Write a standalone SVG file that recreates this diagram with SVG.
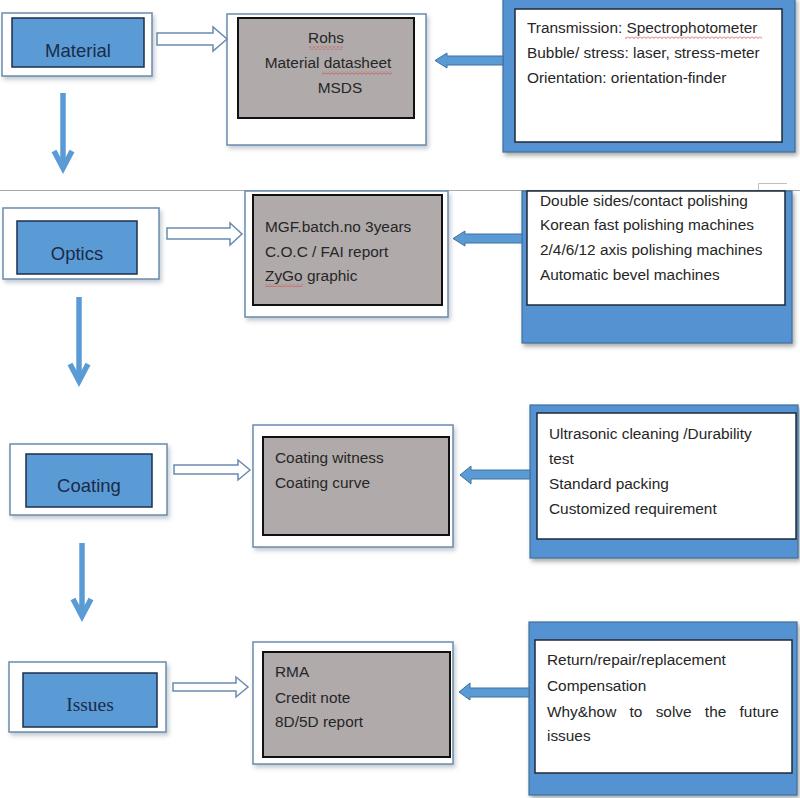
<svg xmlns="http://www.w3.org/2000/svg" width="800" height="798" viewBox="0 0 800 798">
<style>
.bg{fill:#ffffff}
.outer{fill:#ffffff;stroke:#6a8bae;stroke-width:1.5;filter:url(#sh)}
.lab{fill:#5b9bd5;stroke:#1d2f4c;stroke-width:1.5}
.gray{fill:#b0aaaa;stroke:#111;stroke-width:2}
.bluebox{fill:#5592d2;stroke:#41719c;stroke-width:1.2;filter:url(#sh2)}
.white{fill:#ffffff;stroke:#1f2a3a;stroke-width:1.5}
.lt{font-family:"Liberation Sans",Arial,sans-serif;font-size:18.5px;fill:#1a2b48;text-anchor:middle}
.ls{font-family:"Liberation Serif","Times New Roman",serif;font-size:19.5px;fill:#1a2b48;text-anchor:middle}
.t{font-family:"Liberation Sans",Arial,sans-serif;font-size:15.4px;fill:#262626}
.c{text-anchor:middle}
.hollow{fill:#ffffff;stroke:#6a8bae;stroke-width:1.5}
.solid{fill:#5b9bd5;stroke:#41719c;stroke-width:1}
.down{fill:none;stroke:#5b9bd5;stroke-width:5.5}
.wave{fill:url(#wv)}
</style>
<defs>
<filter id="sh" x="-10%" y="-10%" width="130%" height="130%">
<feDropShadow dx="2" dy="3" stdDeviation="2" flood-color="#7a8a9a" flood-opacity="0.45"/>
</filter>
<filter id="sh2" x="-10%" y="-10%" width="130%" height="130%">
<feDropShadow dx="2" dy="3" stdDeviation="2" flood-color="#555" flood-opacity="0.5"/>
</filter>
<pattern id="wv" width="4" height="3" patternUnits="userSpaceOnUse">
<path d="M0,0.5 L2,2.5 L4,0.5" fill="none" stroke="#d23c3c" stroke-width="0.8"/>
</pattern>
</defs>
<rect class="bg" x="0" y="0" width="800" height="798"/>
<line x1="0" y1="190.5" x2="800" y2="190.5" stroke="#a8a8a8" stroke-width="1"/>
<polyline points="758.5,190 758.5,183.5 787,183.5" fill="none" stroke="#c0c0c0" stroke-width="1"/>

<g id="material">
<rect class="outer" x="2" y="13" width="150" height="63"/>
<rect class="lab" x="12" y="18" width="132" height="49"/>
<text class="lt" x="78" y="57">Material</text>
</g>
<g id="material-docs">
<rect class="outer" x="227" y="14" width="199" height="131"/>
<rect class="gray" x="238" y="18" width="176" height="100"/>
<text class="t c" x="326" y="43">Rohs</text>
<text class="t c" x="328" y="68">Material datasheet</text>
<text class="t c" x="340" y="93">MSDS</text>
<rect class="wave" x="309" y="46.5" width="34" height="3"/>
<rect class="wave" x="322" y="71.5" width="70" height="3"/>
</g>
<g id="material-tests">
<rect class="bluebox" x="503" y="-2" width="292" height="154"/>
<rect class="white" x="515" y="9" width="267" height="133"/>
<text class="t" x="527" y="33">Transmission: Spectrophotometer</text>
<text class="t" x="527" y="58">Bubble/ stress: laser, stress-meter</text>
<text class="t" x="527" y="83">Orientation: orientation-finder</text>
<rect class="wave" x="625" y="36" width="137" height="3"/>
</g>

<g id="optics">
<rect class="outer" x="3" y="208" width="156" height="71"/>
<rect class="lab" x="17" y="221" width="120" height="53"/>
<text class="lt" x="77" y="260">Optics</text>
</g>
<g id="optics-docs">
<rect class="outer" x="245" y="191" width="203" height="126"/>
<rect class="gray" x="253" y="195" width="189" height="110"/>
<text class="t" x="265" y="232">MGF.batch.no 3years</text>
<text class="t" x="265" y="257">C.O.C / FAI report</text>
<text class="t" x="265" y="281">ZyGo graphic</text>
<rect class="wave" x="265" y="284" width="38" height="3"/>
</g>
<g id="optics-machines">
<rect class="bluebox" x="522" y="191" width="270" height="152"/>
<rect class="white" x="527" y="191" width="258" height="114"/>
<text class="t" x="540" y="206">Double sides/contact polishing</text>
<text class="t" x="540" y="230">Korean fast polishing machines</text>
<text class="t" x="540" y="255">2/4/6/12 axis polishing machines</text>
<text class="t" x="540" y="280">Automatic bevel machines</text>
</g>

<g id="coating">
<rect class="outer" x="10" y="444" width="157" height="71"/>
<rect class="lab" x="26" y="454" width="126" height="53"/>
<text class="lt" x="89" y="492">Coating</text>
</g>
<g id="coating-docs">
<rect class="outer" x="253" y="425" width="200" height="122"/>
<rect class="gray" x="263" y="437" width="186" height="98"/>
<text class="t" x="275" y="463">Coating witness</text>
<text class="t" x="275" y="488">Coating curve</text>
</g>
<g id="coating-tests">
<rect class="bluebox" x="530" y="405" width="268" height="153"/>
<rect class="white" x="537" y="413" width="259" height="126"/>
<text class="t" x="549" y="439">Ultrasonic cleaning /Durability</text>
<text class="t" x="549" y="464">test</text>
<text class="t" x="549" y="489">Standard packing</text>
<text class="t" x="549" y="514">Customized requirement</text>
</g>

<g id="issues">
<rect class="outer" x="9" y="662" width="157" height="70"/>
<rect class="lab" x="23" y="673" width="134" height="54"/>
<text class="ls" x="90" y="711">Issues</text>
</g>
<g id="issues-docs">
<rect class="outer" x="253" y="642" width="200" height="122"/>
<rect class="gray" x="263" y="652" width="187" height="105"/>
<text class="t" x="275" y="677">RMA</text>
<text class="t" x="275" y="703">Credit note</text>
<text class="t" x="275" y="727">8D/5D report</text>
</g>
<g id="issues-actions">
<rect class="bluebox" x="529" y="622" width="268" height="173"/>
<rect class="white" x="535" y="640" width="257" height="133"/>
<text class="t" x="547" y="665">Return/repair/replacement</text>
<text class="t" x="547" y="691">Compensation</text>
<text class="t" x="547" y="717" word-spacing="9">Why&amp;how to solve the future</text>
<text class="t" x="547" y="741">issues</text>
</g>

<g id="connectors">
<path class="hollow" d="M157,33 H213 V27 L227,39 L213,51 V45 H157 Z"/>
<path class="hollow" d="M167,228 H230 V223 L242,234 L230,245 V239 H167 Z"/>
<path class="hollow" d="M174,465 H238 V460 L250,470 L238,480 V474 H174 Z"/>
<path class="hollow" d="M173,683 H236 V677 L248,687 L236,697 V691 H173 Z"/>

<path class="solid" d="M503,56 H447 V53 L435,60.5 L447,68 V65 H503 Z"/>
<path class="solid" d="M522,234 H465 V231 L453,238.5 L465,246 V243 H522 Z"/>
<path class="solid" d="M530,470 H471 V466 L460,475 L471,484 V479 H530 Z"/>
<path class="solid" d="M529,688 H470 V683 L459,692 L470,700 V697 H529 Z"/>

<line class="down" x1="63" y1="93" x2="63" y2="168"/>
<polyline class="down" points="54,151 63,168 72,151"/>
<line class="down" x1="79" y1="297" x2="79" y2="381"/>
<polyline class="down" points="70,364 79,381 88,364"/>
<line class="down" x1="82" y1="543" x2="82" y2="616"/>
<polyline class="down" points="73,599 82,616 91,599"/>
</g>
</svg>
